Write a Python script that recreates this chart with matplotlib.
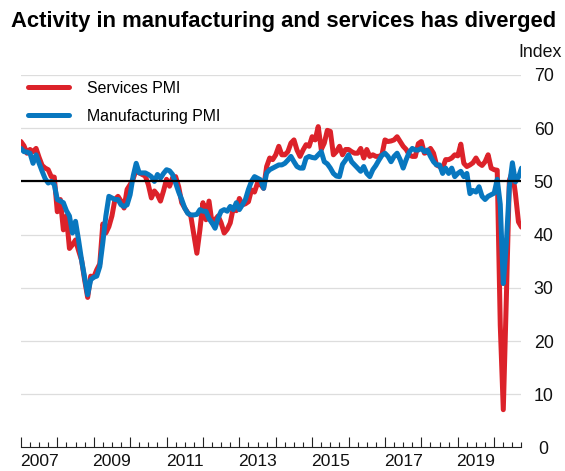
import matplotlib
matplotlib.use("Agg")
from matplotlib import pyplot as plt
import matplotlib.transforms as mtrans

plt.rcParams['font.family'] = ['Liberation Sans', 'DejaVu Sans']

# monthly PMI readings, Jan 2007 .. Oct 2020
start_year = 2007
services = [
    57.5, 56.7, 55.3, 56.0, 55.6, 56.2, 54.5, 53.0, 52.5, 52.2, 50.9, 50.8,   # 2007
    44.3, 46.6, 40.9, 43.5, 37.4, 38.1, 39.0, 37.0, 35.2, 31.5, 28.2, 32.2,   # 2008
    32.0, 33.4, 34.5, 42.0, 40.3, 41.5, 43.5, 46.6, 47.2, 46.3, 45.0, 48.5,   # 2009
    49.4, 50.5, 52.2, 51.6, 51.3, 51.0, 49.4, 46.9, 48.2, 47.5, 46.3, 48.2,   # 2010
    50.4, 49.1, 50.7, 50.9, 49.0, 46.0, 45.0, 44.1, 43.5, 40.0, 36.5, 40.9,   # 2011
    46.0, 42.8, 46.3, 42.2, 42.8, 43.5, 42.2, 40.3, 41.0, 42.2, 45.0, 44.5,   # 2012
    46.8, 45.6, 45.8, 46.2, 48.4, 48.0, 49.7, 49.4, 48.7, 52.8, 54.4, 54.1,   # 2013
    55.0, 56.6, 55.0, 55.0, 55.6, 57.2, 57.8, 55.9, 54.7, 55.9, 56.9, 56.6,   # 2014
    58.4, 57.8, 60.3, 56.0, 57.2, 59.6, 59.4, 55.0, 55.6, 56.6, 55.0, 56.0,   # 2015
    56.0, 55.6, 55.3, 55.3, 56.2, 54.4, 56.0, 54.7, 55.0, 54.7, 54.7, 55.0,   # 2016
    57.8, 57.5, 57.6, 57.8, 58.4, 57.5, 56.6, 56.0, 55.0, 54.7, 54.7, 57.1,   # 2017
    57.5, 55.3, 55.5, 56.2, 55.3, 53.1, 52.8, 52.5, 54.1, 54.1, 54.4, 55.0,   # 2018
    54.8, 57.0, 53.4, 52.8, 53.1, 53.5, 54.4, 53.4, 53.0, 53.7, 55.0, 52.5,   # 2019
    52.2, 52.1, 23.0, 7.1, 27.9, 50.2, 51.9, 47.7, 42.4, 41.4,               # 2020
]
manufacturing = [
    56.2, 55.6, 55.5, 55.3, 53.4, 55.0, 53.4, 51.9, 50.5, 49.7, 50.0, 49.4,   # 2007
    46.6, 46.3, 46.0, 44.5, 43.5, 40.3, 42.5, 39.0, 35.2, 32.0, 28.7, 31.5,   # 2008
    32.0, 32.2, 34.0, 38.5, 43.5, 47.2, 46.9, 46.6, 46.6, 45.6, 45.3, 45.6,   # 2009
    47.5, 51.0, 53.4, 51.6, 51.6, 51.6, 51.3, 50.9, 50.0, 51.3, 50.6, 51.5,   # 2010
    52.2, 52.0, 51.3, 49.7, 48.0, 46.6, 45.0, 44.0, 43.7, 43.7, 43.8, 44.7,   # 2011
    44.4, 44.4, 43.0, 42.2, 41.2, 43.1, 44.4, 44.7, 44.4, 45.3, 44.7, 46.0,   # 2012
    44.7, 45.6, 46.6, 48.5, 50.0, 50.9, 50.6, 50.3, 48.7, 51.6, 52.2, 52.5,   # 2013
    52.8, 53.1, 53.1, 53.4, 54.0, 54.7, 53.7, 52.8, 52.5, 52.5, 54.4, 54.7,   # 2014
    54.5, 54.4, 55.0, 55.6, 53.7, 53.3, 52.5, 51.5, 51.0, 50.9, 53.2, 54.0,   # 2015
    55.0, 53.7, 53.1, 52.5, 51.9, 52.8, 51.5, 50.9, 52.2, 53.0, 54.0, 54.9,   # 2016
    55.3, 54.7, 53.7, 54.7, 55.3, 54.1, 52.5, 54.1, 55.5, 56.2, 55.9, 55.9,   # 2017
    56.2, 55.6, 55.9, 54.7, 53.7, 53.1, 53.1, 51.5, 52.5, 51.5, 52.5, 50.9,   # 2018
    51.5, 51.9, 50.9, 51.5, 47.7, 48.3, 48.0, 49.0, 47.2, 46.6, 47.2, 47.5,   # 2019
    47.8, 50.4, 45.7, 30.8, 38.3, 49.0, 53.5, 49.9, 50.8, 52.5,               # 2020
]
year_labels = ['2007', '2009', '2011', '2013', '2015', '2017', '2019']
y_ticks = [0, 10, 20, 30, 40, 50, 60, 70]

red = '#dc222a'
blue = '#0877bf'

x_serv = [start_year + i / 12 for i in range(len(services))]
x_manu = [start_year + i / 12 for i in range(len(manufacturing))]

fig = plt.figure(figsize=(5.65, 4.71), dpi=100)
ax = fig.add_axes([0.037, 0.0499, 0.886, 0.7909])

ax.set_xlim(2007, 2020.75)
ax.set_ylim(0, 70)

for y in y_ticks[1:]:
    ax.axhline(y, color='#dddddd', lw=0.9, zorder=0)
# 50 line sits on top of the series
ax.axhline(50, color='black', lw=1.6, zorder=5)

l_serv, = ax.plot(x_serv, services, color=red, lw=3.6, label='Services PMI',
                  zorder=3, solid_joinstyle='round', solid_capstyle='round')
l_manu, = ax.plot(x_manu, manufacturing, color=blue, lw=3.6, label='Manufacturing PMI',
                  zorder=4, solid_joinstyle='round', solid_capstyle='round')

# spines
for s in ['top', 'right', 'left']:
    ax.spines[s].set_visible(False)
ax.spines['bottom'].set_color('#222222')
ax.spines['bottom'].set_linewidth(0.8)

# x ticks: years tall, quarters short, labels mid-year
ax.set_xticks(range(2007, 2021))
ax.set_xticklabels([])
ax.set_xticks([2007 + q / 4 for q in range(56) if q % 4], minor=True)
ax.tick_params(axis='x', which='major', direction='in', length=7, width=0.8, color='#222222')
ax.tick_params(axis='x', which='minor', direction='in', length=3.5, width=0.8, color='#222222')
xt = mtrans.blended_transform_factory(ax.transData, ax.transAxes)
for lab in year_labels:
    ax.text(int(lab) + 0.5, -0.037, lab, transform=xt, ha='center', va='center',
            fontsize=12.6, color='#111111')

# y labels on the right
ax.yaxis.tick_right()
ax.set_yticks(y_ticks)
ax.set_yticklabels([str(v) for v in y_ticks], fontsize=12.8, color='#111111')
ax.tick_params(axis='y', length=0, pad=16)
for t in ax.get_yticklabels():
    t.set_horizontalalignment('center')

fig.text(0.995, 0.888, 'Index', ha='right', va='center', fontsize=12.8, color='#111111')
fig.text(0.020, 0.954, 'Activity in manufacturing and services has diverged',
         ha='left', va='center', fontsize=15.85, fontweight='bold', color='black')

ax.legend([l_serv, l_manu], ['Services PMI', 'Manufacturing PMI'], loc='upper left',
          bbox_to_anchor=(0.049, 0.828), bbox_transform=fig.transFigure,
          frameon=False, fontsize=11.4, handlelength=2.6, handletextpad=1.15,
          labelspacing=0.82, borderpad=0, borderaxespad=0)

fig.savefig('out.png', dpi=100)
